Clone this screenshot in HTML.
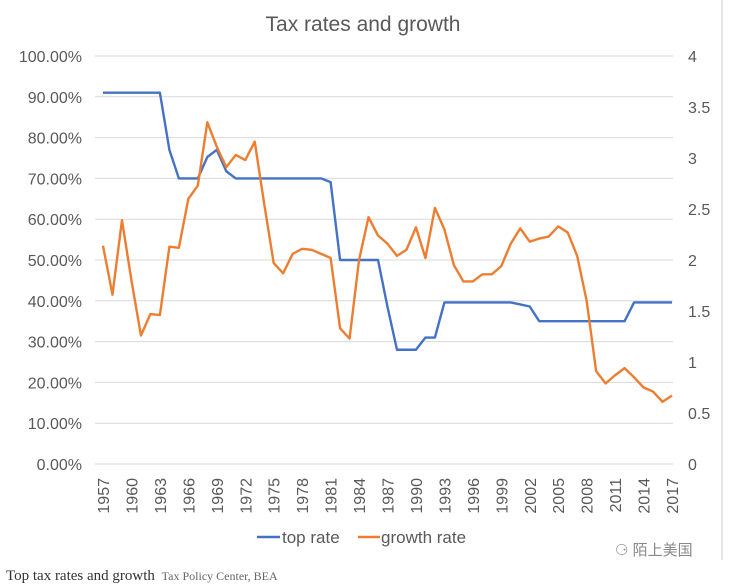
<!DOCTYPE html>
<html><head><meta charset="utf-8"><style>
body{margin:0;background:#fff;}
svg{display:block;font-family:"Liberation Sans",sans-serif;}
</style></head><body>
<svg id="chart" width="735" height="587">
<line x1="722" y1="0" x2="722" y2="560" stroke="#ccc" stroke-width="1"/>
<text x="363" y="31" text-anchor="middle" font-size="21" fill="#595959">Tax rates and growth</text>
<g id="grid"></g>
<g id="ly"></g>
<g id="ry"></g>
<g id="xa"></g>
<g id="series"></g>
<g>
<g><line x1="257" y1="537" x2="280" y2="537" stroke="#4472C4" stroke-width="2.5"/><text x="282" y="543" font-size="17" fill="#595959">top rate</text></g>
<g><line x1="358" y1="537" x2="380" y2="537" stroke="#ED7D31" stroke-width="2.5"/><text x="381" y="543" font-size="17" fill="#595959">growth rate</text></g>
</g>
<text x="615" y="555" font-size="15" fill="#888" font-family="'Liberation Sans','Noto Sans CJK SC',sans-serif">⚆ 陌上美国</text>
<text x="6" y="580" font-size="15" fill="#333" font-family="'Liberation Serif',serif">Top tax rates and growth <tspan font-size="12" fill="#666" dx="3">Tax Policy Center, BEA</tspan></text>
</svg>
<script>
const years=[];for(let y=1957;y<=2017;y++)years.push(y);
const topRate=[91,91,91,91,91,91,91,77,70,70,70,75.25,77,71.75,70,70,70,70,70,70,70,70,70,70,69.1,50,50,50,50,50,38.5,28,28,28,31,31,39.6,39.6,39.6,39.6,39.6,39.6,39.6,39.6,39.1,38.6,35,35,35,35,35,35,35,35,35,35,39.6,39.6,39.6,39.6,39.6];
const growthRate=[2.14,1.66,2.39,1.8,1.26,1.47,1.46,2.13,2.12,2.6,2.73,3.35,3.11,2.91,3.03,2.98,3.16,2.55,1.97,1.87,2.06,2.11,2.1,2.06,2.02,1.33,1.23,2.0,2.42,2.24,2.16,2.04,2.1,2.32,2.02,2.51,2.3,1.95,1.79,1.79,1.86,1.86,1.94,2.16,2.31,2.18,2.21,2.23,2.33,2.27,2.04,1.6,0.91,0.79,0.87,0.94,0.85,0.75,0.71,0.61,0.67];
const leftTicks=[0,10,20,30,40,50,60,70,80,90,100];
const rightTicks=[0,0.5,1,1.5,2,2.5,3,3.5,4];
const NS="http://www.w3.org/2000/svg";
const X0=103,X1=672,Y0=464,Y1=56;
const x=y=>X0+(y-1957)*(X1-X0)/60;
const yl=v=>Y0-v*(Y0-Y1)/100;
const yr=v=>Y0-v*(Y0-Y1)/4;
function mk(tag,at,parent){const e=document.createElementNS(NS,tag);for(const k in at)e.setAttribute(k,at[k]);document.getElementById(parent).appendChild(e);return e;}
leftTicks.forEach(t=>{
 const g=mk('line',{x1:95,x2:673,y1:yl(t),y2:yl(t),stroke:'#d9d9d9','stroke-width':1},'grid');
 
 
 const l=mk('text',{x:82,y:yl(t)+6,'text-anchor':'end','font-size':16,fill:'#595959'},'ly');
 l.textContent=t.toFixed(2)+'%';
 
 
});
rightTicks.forEach(t=>{
 const l=mk('text',{x:688,y:yr(t)+6,'font-size':16,fill:'#595959'},'ry');
 l.textContent=String(t);
 
 
});
years.forEach(y=>{if((y-1957)%3)return;
 const l=mk('text',{transform:`translate(${x(y)+6},478) rotate(-90)`,'text-anchor':'end','font-size':16,fill:'#595959'},'xa');
 l.textContent=String(y);
 
 
});
const p1=mk('polyline',{points:years.map((y,i)=>x(y)+','+yl(topRate[i])).join(' '),fill:'none',stroke:'#4472C4','stroke-width':2.4,'stroke-linejoin':'round'},'series');


const p2=mk('polyline',{points:years.map((y,i)=>x(y)+','+yr(growthRate[i])).join(' '),fill:'none',stroke:'#ED7D31','stroke-width':2.4,'stroke-linejoin':'round'},'series');


</script>
</body></html>
